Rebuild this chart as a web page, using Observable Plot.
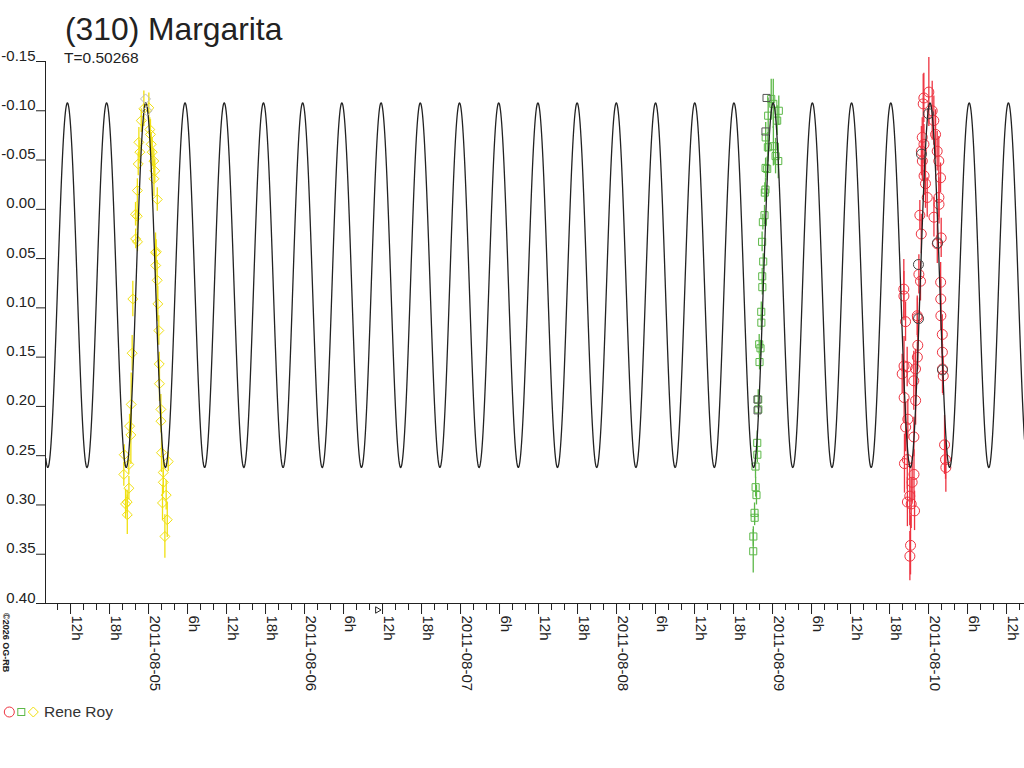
<!DOCTYPE html>
<html>
<head>
<meta charset="utf-8">
<script src="https://cdn.jsdelivr.net/npm/d3@7"></script>
<script src="https://cdn.jsdelivr.net/npm/@observablehq/plot@0.6"></script>
<style>
  body { margin: 0; background: #fff; font-family: "Liberation Sans", Arial, sans-serif; }
  #wrap { position: relative; width: 1024px; height: 768px; overflow: hidden; background: #fff; }
  #wrap > svg { position: absolute; left: 0; top: 0; }
  .ov { position: absolute; line-height: 1; white-space: nowrap; color: #222; }
  #title { left: 65px; top: 13.5px; font-size: 31.8px; }
  #subtitle { left: 64px; top: 49.8px; font-size: 15.5px; }
  #legend { left: 0px; top: 704px; font-size: 15.5px; color: #333; display: flex; align-items: center; }
  #legend svg { display: block; margin-right: 4px; }
  #copy { left: 10px; top: 613px; font-size: 9px; font-weight: bold; transform: rotate(90deg); transform-origin: 0 0; }
</style>
</head>
<body>
<div id="wrap">
  <div class="ov" id="title">(310) Margarita</div>
  <div class="ov" id="subtitle">T=0.50268</div>
  <div class="ov" id="copy">©2026 OG-RB</div>
  <div class="ov" id="legend">
    <svg width="40" height="14" viewBox="0 0 40 14">
      <circle cx="9.3" cy="7" r="5" fill="none" stroke="#ee3340" stroke-width="1"/>
      <rect x="17.8" y="3.5" width="7" height="7" fill="none" stroke="#5cb848" stroke-width="1"/>
      <path d="M33.3 2 L38.3 7 L33.3 12 L28.3 7 Z" fill="none" stroke="#f0e010" stroke-width="1"/>
    </svg>
    <span>Rene Roy</span>
  </div>
</div>
<script>
// ---- scales / ticks ----
const xDomain = ["2011-08-04T08:09Z", "2011-08-10T14:46Z"];
const yDomain = [-0.15, 0.40];
const yTicks = [-0.15, -0.10, -0.05, 0.00, 0.05, 0.10, 0.15, 0.20, 0.25, 0.30, 0.35, 0.40];
const xTickTimes = [
  "2011-08-04T12:00Z","2011-08-04T18:00Z",
  "2011-08-05T00:00Z","2011-08-05T06:00Z","2011-08-05T12:00Z","2011-08-05T18:00Z",
  "2011-08-06T00:00Z","2011-08-06T06:00Z","2011-08-06T12:00Z","2011-08-06T18:00Z",
  "2011-08-07T00:00Z","2011-08-07T06:00Z","2011-08-07T12:00Z","2011-08-07T18:00Z",
  "2011-08-08T00:00Z","2011-08-08T06:00Z","2011-08-08T12:00Z","2011-08-08T18:00Z",
  "2011-08-09T00:00Z","2011-08-09T06:00Z","2011-08-09T12:00Z","2011-08-09T18:00Z",
  "2011-08-10T00:00Z","2011-08-10T06:00Z","2011-08-10T12:00Z"
];
const xTickLabels = [
  "12h","18h",
  "2011-08-05","6h","12h","18h",
  "2011-08-06","6h","12h","18h",
  "2011-08-07","6h","12h","18h",
  "2011-08-08","6h","12h","18h",
  "2011-08-09","6h","12h","18h",
  "2011-08-10","6h","12h"
];
const markerTimes = ["2011-08-06T11:20Z"];

// ---- fitted model (from the chart: period T in days) ----
const periodT = [0.50268];
const modelMean = [0.077];
const modelAmplitude = [0.185];
const modelMaxTime = ["2011-08-04T23:35Z"];

// ---- session 1: yellow diamonds ----
const yellowTime = [
  "2011-08-04T20:12Z","2011-08-04T20:16Z","2011-08-04T20:28Z","2011-08-04T20:43Z","2011-08-04T20:44Z",
  "2011-08-04T20:58Z","2011-08-04T20:59Z","2011-08-04T21:05Z","2011-08-04T21:17Z","2011-08-04T21:20Z",
  "2011-08-04T21:29Z","2011-08-04T21:35Z","2011-08-04T22:00Z","2011-08-04T22:01Z","2011-08-04T22:16Z",
  "2011-08-04T22:17Z","2011-08-04T22:18Z","2011-08-04T22:25Z","2011-08-04T22:31Z","2011-08-04T22:40Z",
  "2011-08-04T22:53Z","2011-08-04T23:17Z","2011-08-05T00:03Z","2011-08-05T00:12Z","2011-08-05T00:18Z",
  "2011-08-05T00:25Z","2011-08-05T00:34Z","2011-08-05T00:49Z","2011-08-05T00:50Z","2011-08-05T00:58Z",
  "2011-08-05T01:05Z","2011-08-05T01:06Z","2011-08-05T01:11Z","2011-08-05T01:20Z","2011-08-05T01:21Z",
  "2011-08-05T01:26Z","2011-08-05T01:35Z","2011-08-05T01:39Z","2011-08-05T01:41Z","2011-08-05T01:54Z",
  "2011-08-05T01:55Z","2011-08-05T02:00Z","2011-08-05T02:09Z","2011-08-05T02:16Z","2011-08-05T02:17Z",
  "2011-08-05T02:31Z","2011-08-05T02:43Z","2011-08-05T02:53Z","2011-08-05T03:02Z"
];
const yellowMag = [
  0.269,0.249,0.299,0.297,0.310,0.259,0.283,0.220,0.229,0.198,
  0.146,0.091,0.005,0.030,0.007,-0.019,0.033,-0.046,-0.068,-0.058,
  -0.090,-0.102,-0.103,-0.081,-0.076,-0.066,-0.058,-0.049,-0.031,-0.039,
  0.044,0.057,0.043,0.072,-0.010,0.096,0.123,0.157,0.177,0.203,
  0.215,0.247,0.298,0.267,0.277,0.332,0.290,0.315,0.256
];
const yellowErr = [
  0.012,0.010,0.015,0.012,0.020,0.010,0.012,0.012,0.030,0.032,
  0.018,0.018,0.012,0.010,0.015,0.012,0.010,0.012,0.015,0.012,
  0.012,0.018,0.015,0.012,0.015,0.012,0.015,0.012,0.018,0.012,
  0.020,0.015,0.012,0.020,0.012,0.018,0.015,0.012,0.018,0.015,
  0.012,0.020,0.018,0.015,0.012,0.022,0.015,0.018,0.010
];

// ---- session 2: green squares ----
const greenTime = [
  "2011-08-08T21:02Z","2011-08-08T21:03Z","2011-08-08T21:14Z","2011-08-08T21:15Z","2011-08-08T21:23Z",
  "2011-08-08T21:24Z","2011-08-08T21:32Z","2011-08-08T21:39Z","2011-08-08T21:40Z","2011-08-08T21:48Z",
  "2011-08-08T21:49Z","2011-08-08T21:57Z","2011-08-08T22:00Z","2011-08-08T22:09Z","2011-08-08T22:16Z",
  "2011-08-08T22:17Z","2011-08-08T22:25Z","2011-08-08T22:26Z","2011-08-08T22:24Z","2011-08-08T22:31Z",
  "2011-08-08T22:34Z","2011-08-08T22:46Z","2011-08-08T22:49Z","2011-08-08T22:55Z","2011-08-08T22:56Z",
  "2011-08-08T22:57Z","2011-08-08T23:11Z","2011-08-08T23:17Z","2011-08-08T23:20Z","2011-08-08T23:48Z",
  "2011-08-09T00:07Z","2011-08-09T00:08Z","2011-08-09T00:28Z","2011-08-09T00:43Z","2011-08-09T00:53Z",
  "2011-08-09T00:58Z"
];
const greenMag = [
  0.347,0.332,0.308,0.313,0.261,0.282,0.290,0.237,0.249,0.193,
  0.203,0.137,0.155,0.141,0.104,0.115,0.068,0.079,0.033,0.013,
  0.053,0.006,-0.017,-0.020,-0.042,-0.073,-0.041,-0.063,-0.095,-0.112,
  -0.107,-0.064,-0.054,-0.090,-0.049,-0.100
];
const greenErr = [
  0.022,0.010,0.010,0.008,0.012,0.010,0.010,0.012,0.008,0.010,
  0.008,0.010,0.008,0.008,0.010,0.008,0.008,0.008,0.010,0.008,
  0.008,0.010,0.010,0.012,0.010,0.015,0.012,0.015,0.018,0.020,
  0.025,0.020,0.018,0.015,0.018,0.015
];

// ---- session 3: red circles ----
const redTime = [
  "2011-08-09T20:12Z","2011-08-09T20:13Z","2011-08-09T20:14Z","2011-08-09T19:57Z","2011-08-09T20:15Z",
  "2011-08-09T20:18Z","2011-08-09T20:28Z","2011-08-09T20:29Z","2011-08-09T20:43Z","2011-08-09T20:44Z",
  "2011-08-09T20:45Z","2011-08-09T20:49Z","2011-08-09T21:07Z","2011-08-09T21:08Z","2011-08-09T21:14Z",
  "2011-08-09T21:20Z","2011-08-09T21:29Z","2011-08-09T21:44Z","2011-08-09T21:45Z","2011-08-09T21:46Z",
  "2011-08-09T21:51Z","2011-08-09T22:00Z","2011-08-09T22:01Z","2011-08-09T22:16Z","2011-08-09T22:17Z",
  "2011-08-09T22:18Z","2011-08-09T22:21Z","2011-08-09T22:31Z","2011-08-09T22:40Z","2011-08-09T22:46Z",
  "2011-08-09T22:53Z","2011-08-09T22:54Z","2011-08-09T23:02Z","2011-08-09T23:03Z","2011-08-09T23:11Z",
  "2011-08-09T23:17Z","2011-08-09T23:18Z","2011-08-09T23:19Z","2011-08-09T23:32Z","2011-08-09T23:48Z",
  "2011-08-10T00:03Z","2011-08-10T00:34Z","2011-08-10T00:49Z","2011-08-10T00:50Z","2011-08-10T01:05Z",
  "2011-08-10T01:20Z","2011-08-10T01:21Z","2011-08-10T01:35Z","2011-08-10T01:36Z","2011-08-10T01:37Z",
  "2011-08-10T01:51Z","2011-08-10T01:52Z","2011-08-10T01:53Z","2011-08-10T01:54Z","2011-08-10T01:57Z",
  "2011-08-10T02:07Z","2011-08-10T02:08Z","2011-08-10T02:09Z","2011-08-10T02:16Z","2011-08-10T02:28Z",
  "2011-08-10T02:37Z","2011-08-10T02:40Z"
];
const redMag = [
  0.081,0.088,0.159,0.167,0.191,0.258,0.114,0.221,0.160,0.254,
  0.297,0.213,0.291,0.352,0.341,0.299,0.277,0.174,0.231,0.269,
  0.306,0.162,0.194,0.108,0.150,0.110,0.138,0.066,0.006,0.073,
  0.025,-0.059,-0.073,-0.049,-0.107,-0.113,-0.066,-0.034,-0.026,-0.012,
  -0.119,-0.100,-0.090,0.008,-0.076,-0.059,0.035,-0.049,-0.012,-0.005,
  -0.032,0.074,0.091,0.108,0.029,0.127,0.145,0.162,0.169,0.239,
  0.254,0.262
];
const redErr = [
  0.030,0.025,0.030,0.020,0.025,0.030,0.020,0.025,0.020,0.030,
  0.025,0.020,0.030,0.025,0.030,0.025,0.020,0.030,0.020,0.025,
  0.020,0.020,0.025,0.020,0.015,0.020,0.025,0.020,0.015,0.020,
  0.020,0.025,0.020,0.020,0.030,0.025,0.020,0.020,0.025,0.020,
  0.035,0.030,0.025,0.020,0.025,0.020,0.020,0.025,0.020,0.020,
  0.015,0.020,0.020,0.015,0.020,0.020,0.015,0.025,0.020,0.030,
  0.020,0.025
];

// ---- grey (secondary) points ----
const greyDiamondTime = ["2011-08-04T23:32Z","2011-08-04T23:46Z"];
const greyDiamondMag = [-0.112,-0.100];
const greySquareTime = ["2011-08-08T21:41Z","2011-08-08T21:42Z","2011-08-08T23:05Z","2011-08-08T22:55Z"];
const greySquareMag = [0.193,0.204,-0.113,-0.079];
const greyCircleTime = ["2011-08-09T22:55Z","2011-08-10T00:00Z","2011-08-10T01:23Z","2011-08-10T02:09Z","2011-08-09T22:28Z","2011-08-09T22:27Z"];
const greyCircleMag = [-0.056,-0.097,0.034,0.163,0.111,0.056];

// ---- colours ----
const colYellow = "#f0e010", colGreen = "#5cb848", colRed = "#ee3340", colInk = "#222";

// ---- tables ----
const rows = (times, mags, errs) => times.map((t, i) => ({t: new Date(t), m: mags[i], e: errs ? errs[i] : 0}));
const yellow = rows(yellowTime, yellowMag, yellowErr);
const green = rows(greenTime, greenMag, greenErr);
const red = rows(redTime, redMag, redErr);
const greyD = rows(greyDiamondTime, greyDiamondMag);
const greyS = rows(greySquareTime, greySquareMag);
const greyC = rows(greyCircleTime, greyCircleMag);

const x0 = new Date(xDomain[0]), x1 = new Date(xDomain[1]);
const halfPeriodMs = periodT[0] / 2 * 864e5;
const tMax = new Date(modelMaxTime[0]).getTime();
const model = d3.utcMinute.every(4).range(x0, x1).concat([x1]).map(t => ({
  t, m: modelMean[0] - modelAmplitude[0] * Math.cos(2 * Math.PI * (t.getTime() - tMax) / halfPeriodMs)
}));

const tickTimes = xTickTimes.map(d => new Date(d));
const shortTicks = d3.utcHour.every(2).range(x0, x1);
const longTicks = d3.utcHour.every(6).range(x0, x1);
const empty = () => "";

// right-pointing open triangle symbol
const triangleRight = {
  draw(context, size) {
    const s = Math.sqrt(size) * 0.6;
    context.moveTo(-s * 0.8, -s);
    context.lineTo(s * 0.9, 0);
    context.lineTo(-s * 0.8, s);
    context.closePath();
  }
};

const errBars = (data, stroke) => Plot.ruleX(data, {x: "t", y1: d => d.m - d.e, y2: d => d.m + d.e, stroke, strokeWidth: 1.3});

const chart = Plot.plot({
  width: 1024,
  height: 768,
  marginLeft: 45,
  marginRight: 0,
  marginTop: 61,
  marginBottom: 165,
  x: {type: "utc", domain: [x0, x1], label: null},
  y: {domain: yDomain, reverse: true, label: null},
  style: {fontFamily: "'Liberation Sans', Arial, sans-serif", fontSize: "15px", color: colInk, background: "transparent", overflow: "visible"},
  marks: [
    // axis lines
    Plot.ruleX([x0], {y1: yDomain[0], y2: yDomain[1], stroke: colInk}),
    Plot.ruleY([yDomain[1]], {stroke: colInk}),
    // y ticks + labels
    Plot.axisY(yTicks, {tickSize: 9, tickFormat: empty, label: null, stroke: colInk}),
    Plot.text(yTicks, {y: d => d, text: d => d.toFixed(2), frameAnchor: "left", dx: -10, dy: -1, textAnchor: "end", lineAnchor: "bottom", fill: colInk}),
    // x ticks + labels
    Plot.axisX(shortTicks, {tickSize: 7, tickFormat: empty, label: null, stroke: colInk}),
    Plot.axisX(longTicks, {tickSize: 11, tickFormat: empty, label: null, stroke: colInk}),
    Plot.text(tickTimes, {x: d => d, text: (d, i) => xTickLabels[i], frameAnchor: "bottom", dy: 12, dx: 1, rotate: 90, textAnchor: "start", lineAnchor: "bottom", fill: colInk}),
    Plot.dot(markerTimes.map(d => new Date(d)), {x: d => d, frameAnchor: "bottom", dy: 6.5, symbol: triangleRight, r: 3, stroke: colInk, fill: "none", strokeWidth: 1}),
    // error bars
    errBars(yellow, colYellow),
    errBars(green, colGreen),
    errBars(red, colRed),
    // points
    Plot.dot(yellow, {x: "t", y: "m", symbol: "diamond2", r: 4.5, stroke: colYellow, fill: "none", strokeWidth: 1}),
    Plot.dot(green, {x: "t", y: "m", symbol: "square", r: 4, stroke: colGreen, fill: "none", strokeWidth: 1}),
    Plot.dot(red, {x: "t", y: "m", symbol: "circle", r: 5, stroke: colRed, fill: "none", strokeWidth: 1}),
    // model curve
    Plot.line(model, {x: "t", y: "m", stroke: colInk, strokeWidth: 1.3}),
    // grey points
    Plot.dot(greyD, {x: "t", y: "m", symbol: "diamond2", r: 4.5, stroke: "#bbbbbb", fill: "none", strokeWidth: 1}),
    Plot.dot(greyS, {x: "t", y: "m", symbol: "square", r: 4, stroke: "#555555", fill: "none", strokeWidth: 1}),
    Plot.dot(greyC, {x: "t", y: "m", symbol: "circle", r: 5, stroke: "#444444", fill: "none", strokeWidth: 1})
  ]
});
document.getElementById("wrap").prepend(chart);
</script>
</body>
</html>
